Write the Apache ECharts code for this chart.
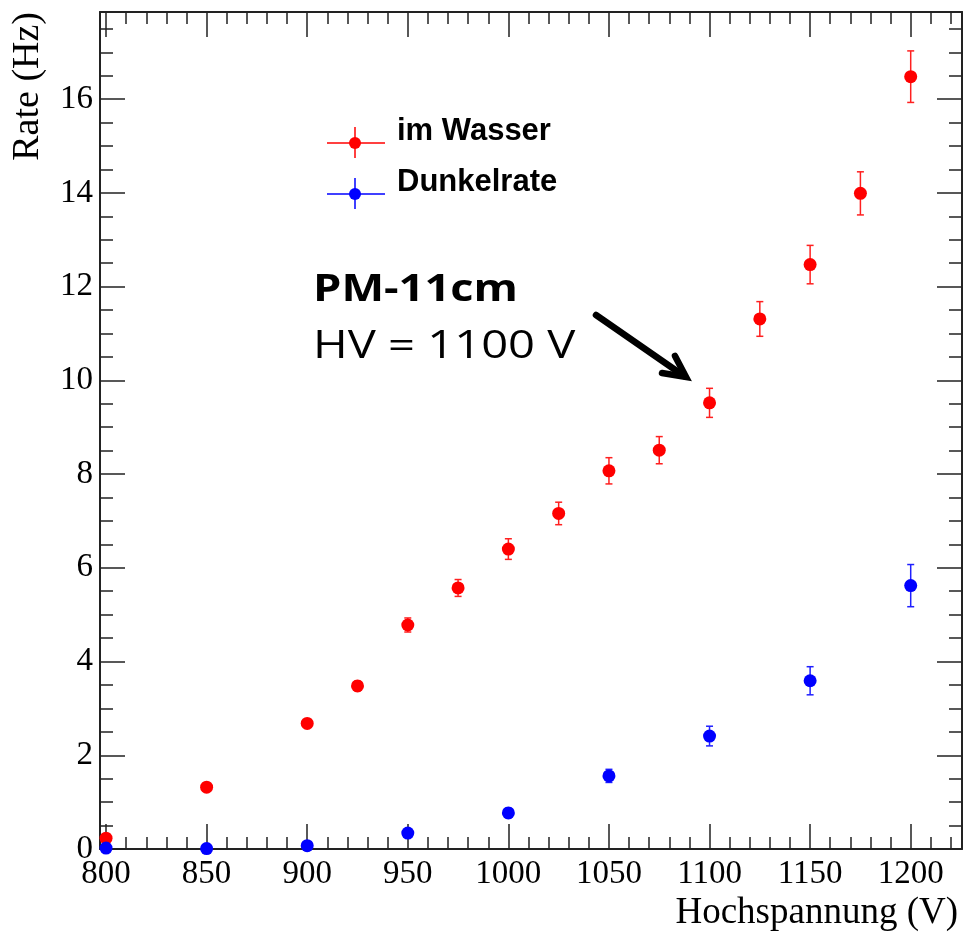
<!DOCTYPE html>
<html>
<head>
<meta charset="utf-8">
<title>Rate vs Hochspannung</title>
<script src="https://cdn.jsdelivr.net/npm/echarts@6/dist/echarts.min.js"></script>
<style>
  html, body { margin: 0; padding: 0; background: #fff; }
  #chart { width: 963px; height: 935px; }
</style>
</head>
<body>
<div id="chart"></div>
<script>
// im Wasser (rot)
var wasserX = [800, 850, 900, 925, 950, 975, 1000, 1025, 1050, 1075, 1100, 1125, 1150, 1175, 1200];
var wasserY = [0.23, 1.32, 2.68, 3.48, 4.78, 5.57, 6.40, 7.16, 8.07, 8.51, 9.52, 11.31, 12.47, 13.99, 16.48];
var wasserErr = [0.03, 0.05, 0.08, 0.10, 0.15, 0.18, 0.22, 0.24, 0.28, 0.29, 0.31, 0.37, 0.41, 0.46, 0.55];

// Dunkelrate (blau)
var dunkelX = [800, 850, 900, 950, 1000, 1050, 1100, 1150, 1200];
var dunkelY = [0.02, 0.01, 0.07, 0.34, 0.77, 1.56, 2.41, 3.59, 5.62];
var dunkelErr = [0.01, 0.01, 0.02, 0.07, 0.10, 0.14, 0.21, 0.30, 0.45];

// Achsen
var xTicks = [800, 850, 900, 950, 1000, 1050, 1100, 1150, 1200];
var yTicks = [0, 2, 4, 6, 8, 10, 12, 14, 16];
var xRange = [797, 1225.5];
var yRange = [0, 17.86];

var xMinor = [];
for (var v = 810; v < xRange[1]; v += 10) { if (v % 50 !== 0) xMinor.push(v); }
var yMinor = [];
for (var w = 0.5; w < yRange[1]; w += 0.5) { if (w % 2 !== 0) yMinor.push(w); }

var chart = echarts.init(document.getElementById('chart'));

var serif = 'Liberation Serif';
var lineStyle = { color: '#222', width: 2 };

function makeAxis(pos, range, ticks, len, withLabel, withLine) {
  return {
    type: 'value',
    position: pos,
    min: range[0],
    max: range[1],
    axisLine: { show: withLine, onZero: false, lineStyle: lineStyle },
    axisTick: { show: true, inside: true, length: len, customValues: ticks, lineStyle: { color: '#222', width: 1.5 } },
    axisLabel: withLabel ? {
      show: true, customValues: ticks, fontFamily: serif, fontSize: 33, color: '#000',
      margin: pos === 'left' ? 7 : 9,
      formatter: function (val) { return String(val); }
    } : { show: false },
    splitLine: { show: false }
  };
}

var xMain = makeAxis('bottom', xRange, xTicks, 25, true, true);
xMain.name = 'Hochspannung (V)';
xMain.nameLocation = 'end';
xMain.nameGap = -4;
xMain.nameTextStyle = { fontFamily: serif, fontSize: 37, color: '#000', align: 'right', verticalAlign: 'top', padding: [46, 0, 0, 0] };

var yMain = makeAxis('left', yRange, yTicks, 25, true, true);
yMain.name = 'Rate (Hz)';
yMain.nameLocation = 'end';
yMain.nameGap = 0;
yMain.nameRotate = 90;
yMain.nameTextStyle = { fontFamily: serif, fontSize: 38, color: '#000', align: 'right', verticalAlign: 'bottom', padding: [0, 0, 53, 0] };

// Fehlerbalken
function errorBars(xs, ys, errs) {
  return xs.map(function (x, i) { return [x, ys[i], errs[i]]; });
}

function renderErr(params, api) {
  var x = api.value(0), y = api.value(1), e = api.value(2);
  var lo = api.coord([x, y - e]);
  var hi = api.coord([x, y + e]);
  var c = api.visual('color');
  var st = { stroke: c, lineWidth: 1.5 };
  return {
    type: 'group',
    children: [
      { type: 'line', shape: { x1: lo[0], y1: lo[1], x2: hi[0], y2: hi[1] }, style: st },
      { type: 'line', shape: { x1: lo[0] - 3.5, y1: lo[1], x2: lo[0] + 3.5, y2: lo[1] }, style: st },
      { type: 'line', shape: { x1: hi[0] - 3.5, y1: hi[1], x2: hi[0] + 3.5, y2: hi[1] }, style: st }
    ]
  };
}

function legendItem(y, color, label) {
  return [
    { type: 'line', shape: { x1: 327, y1: y, x2: 385, y2: y }, style: { stroke: color, lineWidth: 1.5 } },
    { type: 'line', shape: { x1: 355, y1: y - 16, x2: 355, y2: y + 15 }, style: { stroke: color, lineWidth: 1.5 } },
    { type: 'circle', shape: { cx: 355, cy: y, r: 6 }, style: { fill: color } },
    { type: 'text', x: 397, y: y - 12, style: { text: label, fontFamily: 'Liberation Sans', fontWeight: 'bold', fontSize: 31, fill: '#000', verticalAlign: 'middle' } }
  ];
}

var option = {
  backgroundColor: '#fff',
  animation: false,
  grid: { left: 100, right: 1, top: 12, bottom: 86, containLabel: false },
  xAxis: [
    xMain,
    makeAxis('bottom', xRange, xMinor, 12, false, false),
    makeAxis('top', xRange, xTicks, 25, false, true),
    makeAxis('top', xRange, xMinor, 12, false, false)
  ],
  yAxis: [
    yMain,
    makeAxis('left', yRange, yMinor, 13, false, false),
    makeAxis('right', yRange, yTicks, 25, false, true),
    makeAxis('right', yRange, yMinor, 13, false, false)
  ],
  series: [
    {
      name: 'im Wasser err', type: 'custom', renderItem: renderErr,
      itemStyle: { color: '#ff2020' }, data: errorBars(wasserX, wasserY, wasserErr), z: 2
    },
    {
      name: 'Dunkelrate err', type: 'custom', renderItem: renderErr,
      itemStyle: { color: '#2020ff' }, data: errorBars(dunkelX, dunkelY, dunkelErr), z: 2
    },
    {
      name: 'im Wasser', type: 'scatter', symbol: 'circle', symbolSize: 13,
      itemStyle: { color: '#ff0000', opacity: 1 }, z: 3,
      data: wasserX.map(function (x, i) { return [x, wasserY[i]]; })
    },
    {
      name: 'Dunkelrate', type: 'scatter', symbol: 'circle', symbolSize: 13,
      itemStyle: { color: '#0000ff', opacity: 1 }, z: 3,
      data: dunkelX.map(function (x, i) { return [x, dunkelY[i]]; })
    }
  ],
  graphic: [].concat(
    legendItem(143, '#ff0000', 'im Wasser'),
    legendItem(194, '#0000ff', 'Dunkelrate'),
    [
      // Beschriftung mit Pfeil
      { type: 'text', x: 313, y: 290, scaleX: 1.19,
        style: { text: 'PM-11cm', fontFamily: 'Open Sans', fontWeight: 'bold', fontSize: 38, fill: '#000', verticalAlign: 'middle' } },
      { type: 'text', x: 313, y: 347, scaleX: 1.24,
        style: { text: 'HV = 1100 V', fontFamily: 'Open Sans', fontSize: 38, fill: '#000', verticalAlign: 'middle' } },
      { type: 'line', shape: { x1: 596, y1: 315, x2: 684, y2: 376 },
        style: { stroke: '#000', lineWidth: 6.5, lineCap: 'round' } },
      { type: 'polyline', shape: { points: [[662, 373], [686, 377], [675, 356]] },
        style: { stroke: '#000', fill: null, lineWidth: 6.5, lineCap: 'round', lineJoin: 'miter' } }
    ]
  )
};

chart.setOption(option);
</script>
</body>
</html>
